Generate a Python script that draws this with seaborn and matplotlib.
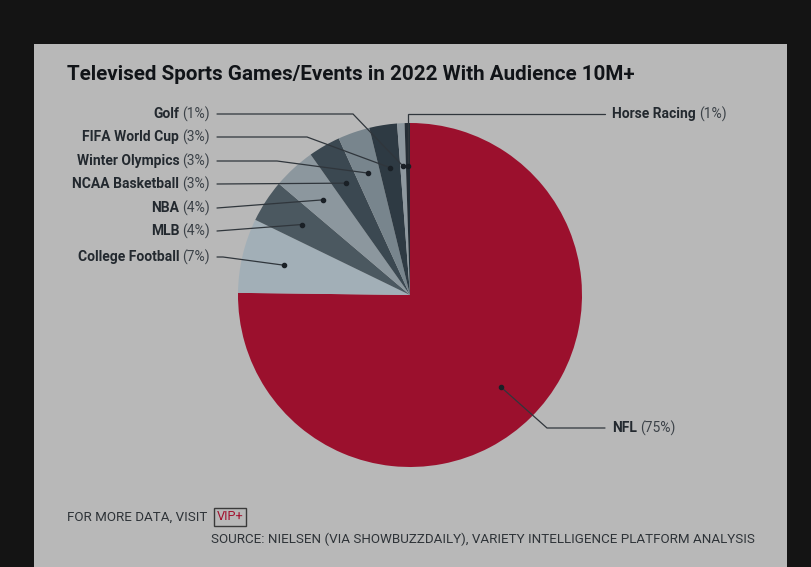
import numpy as np
import matplotlib.pyplot as plt
import seaborn as sns
from matplotlib.patches import Rectangle

# --- Data ---
SPORTS = ["NFL", "College Football", "MLB", "NBA", "NCAA Basketball",
          "Winter Olympics", "FIFA World Cup", "Golf", "Horse Racing"]
SHARES = [75.2, 7.0, 4.0, 4.0, 3.0, 3.0, 2.6, 0.7, 0.5]
PCT_LABELS = ["75%", "7%", "4%", "4%", "3%", "3%", "3%", "1%", "1%"]
COLORS = ["#9b102d", "#a2afb7", "#4b5860", "#8c979e", "#3b4851",
          "#78858d", "#2e3a43", "#8e989f", "#252d35"]

TITLE = "Televised Sports Games/Events in 2022 With Audience 10M+"
FOOTER = "FOR MORE DATA, VISIT"
SOURCE = "SOURCE: NIELSEN (VIA SHOWBUZZDAILY), VARIETY INTELLIGENCE PLATFORM ANALYSIS"

# --- Layout (pixels) ---
W, H = 811, 567
CX, CY, R = 410, 295, 172
LEFT_X, RIGHT_X = 210, 612
LABEL_Y = {"NFL": 428, "College Football": 257, "MLB": 231, "NBA": 208,
           "NCAA Basketball": 184, "Winter Olympics": 161,
           "FIFA World Cup": 137, "Golf": 114, "Horse Racing": 114}
ELBOW_X = {"NFL": 547, "College Football": 223, "MLB": 217, "NBA": 217,
           "NCAA Basketball": 217, "Winter Olympics": 277,
           "FIFA World Cup": 307, "Golf": 353, "Horse Racing": None}
RIGHT_SIDE = {"NFL", "Horse Racing"}

PANEL = "#b8b8b8"
TEXT_DARK = "#23292f"
TEXT_PCT = "#3c4248"
LINE_C = "#30363c"
LABEL_FS = 10

sns.set_theme(style="white")
plt.rcParams['font.family'] = ['Roboto', 'DejaVu Sans']


def px2data(x, y):
    return (x - CX) / R, (CY - y) / R


def fx(x):
    return x / W


def fy(y):
    return 1 - y / H


fig = plt.figure(figsize=(W / 100, H / 100), dpi=100, facecolor="#141414")
fig.add_artist(Rectangle((fx(34), 0), (787 - 34) / W, (H - 44) / H,
                         transform=fig.transFigure, facecolor=PANEL,
                         edgecolor="none", zorder=-1))

ax = fig.add_axes([(CX - R) / W, (H - CY - R) / H, 2 * R / W, 2 * R / H])
wedges, _ = ax.pie(SHARES, colors=COLORS, startangle=90, counterclock=False,
                   radius=1, wedgeprops=dict(linewidth=0))
ax.set_xlim(-1, 1)
ax.set_ylim(-1, 1)
ax.set_aspect('equal')
ax.axis('off')

renderer = fig.canvas.get_renderer()

for sport, pct, w in zip(SPORTS, PCT_LABELS, wedges):
    mid = np.deg2rad((w.theta1 + w.theta2) / 2)
    dx, dy = 0.75 * np.cos(mid), 0.75 * np.sin(mid)
    ly = LABEL_Y[sport]
    if sport in RIGHT_SIDE:
        sx, sy = px2data(RIGHT_X - 7, ly)
        if ELBOW_X[sport] is None:
            ex, ey = dx, sy
        else:
            ex, ey = px2data(ELBOW_X[sport], ly)
    else:
        sx, sy = px2data(LEFT_X + 7, ly)
        ex, ey = px2data(ELBOW_X[sport], ly)
    ax.plot([sx, ex, dx], [sy, ey, dy], color=LINE_C, lw=0.9,
            clip_on=False, solid_joinstyle='miter')
    ax.scatter([dx], [dy], s=9, color="#1a2026", zorder=5, clip_on=False)

    # label: bold name + regular percentage
    if sport in RIGHT_SIDE:
        t = fig.text(fx(RIGHT_X), fy(ly), sport, fontsize=LABEL_FS,
                     weight='bold', color=TEXT_DARK, ha='left', va='center')
        bw = t.get_window_extent(renderer).width
        fig.text(fx(RIGHT_X + bw + 3), fy(ly), f"({pct})", fontsize=LABEL_FS,
                 color=TEXT_PCT, ha='left', va='center')
    else:
        t = fig.text(fx(LEFT_X), fy(ly), f"({pct})", fontsize=LABEL_FS,
                     color=TEXT_PCT, ha='right', va='center')
        bw = t.get_window_extent(renderer).width
        fig.text(fx(LEFT_X - bw - 3), fy(ly), sport, fontsize=LABEL_FS,
                 weight='bold', color=TEXT_DARK, ha='right', va='center')

fig.text(fx(67), fy(75), TITLE, fontsize=14.9, weight='bold',
         color="#111418", ha='left', va='center')

ft = fig.text(fx(67), fy(517), FOOTER, fontsize=9.6, color="#2e3338",
              ha='left', va='center')
fw = ft.get_window_extent(renderer).width
fig.text(fx(67 + fw + 9), fy(517), "VIP+", fontsize=9.2, color="#a3122f",
         ha='left', va='center',
         bbox=dict(facecolor='none', edgecolor='#3a3a3a', lw=1,
                   boxstyle='square,pad=0.2'))
fig.text(fx(755), fy(539), SOURCE, fontsize=9.6, color="#2e3338",
         ha='right', va='center')

fig.savefig("out.png", dpi=100, facecolor=fig.get_facecolor())
